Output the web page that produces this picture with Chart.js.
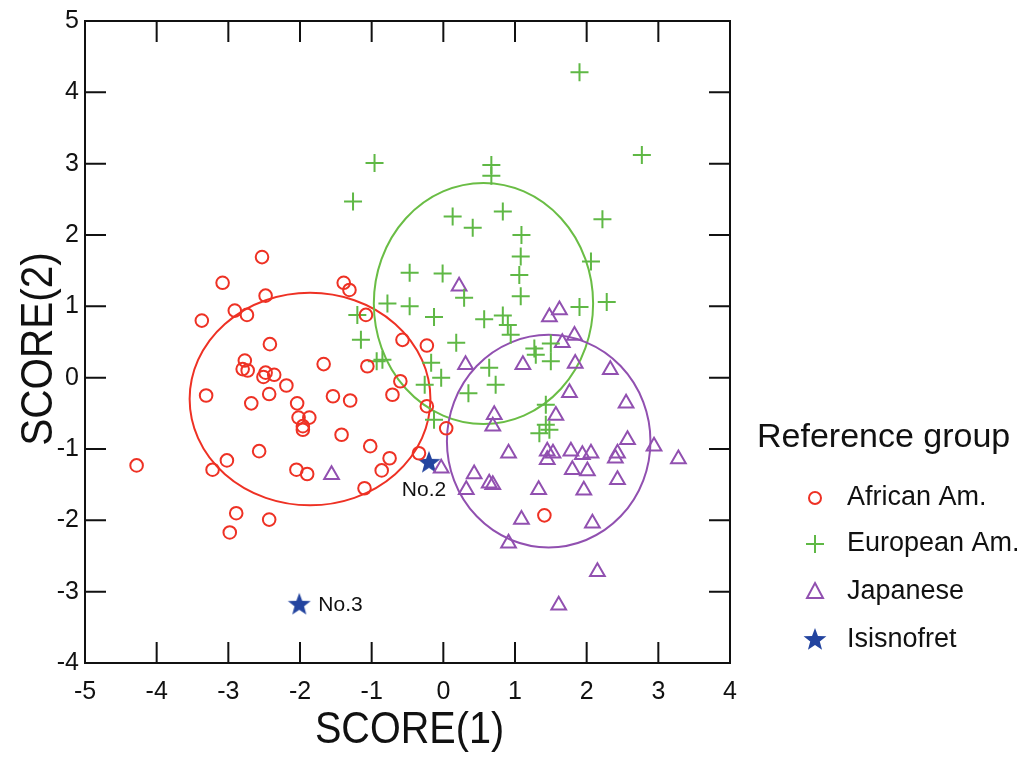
<!DOCTYPE html>
<html>
<head>
<meta charset="utf-8">
<script src="https://cdn.jsdelivr.net/npm/chart.js@4.4.1/dist/chart.umd.min.js"></script>
<style>
  html, body { margin: 0; padding: 0; background: #fff; }
  canvas { display: block; }
</style>
</head>
<body>
<canvas id="scoreChart" width="1028" height="760" style="width:1028px;height:760px"></canvas>
<script>
// data, [score1, score2]
const africanAm = [
  [-4.28, -1.23], [-3.37, 0.80], [-3.31, -0.25], [-3.22, -1.29], [-3.08, 1.33],
  [-3.02, -1.16], [-2.98, -2.17], [-2.91, 0.94], [-2.89, -1.90], [-2.80, 0.12],
  [-2.77, 0.24], [-2.74, 0.88], [-2.73, 0.10], [-2.68, -0.36], [-2.57, -1.03],
  [-2.53, 1.69], [-2.51, 0.01], [-2.48, 1.15], [-2.48, 0.07], [-2.43, -0.23],
  [-2.43, -1.99], [-2.42, 0.47], [-2.36, 0.04], [-2.19, -0.11], [-2.05, -1.29],
  [-2.04, -0.36], [-2.02, -0.56], [-1.96, -0.68], [-1.96, -0.73], [-1.90, -1.35],
  [-1.87, -0.56], [-1.67, 0.19], [-1.54, -0.26], [-1.42, -0.80], [-1.39, 1.33],
  [-1.31, 1.23], [-1.30, -0.32], [-1.10, -1.55], [-1.08, 0.88], [-1.06, 0.16],
  [-1.02, -0.96], [-0.86, -1.30], [-0.75, -1.13], [-0.71, -0.24], [-0.60, -0.05],
  [-0.57, 0.53], [-0.34, -1.06], [-0.23, 0.45], [-0.23, -0.40], [0.04, -0.71],
  [1.41, -1.93]
];
const europeanAm = [
  [-1.26, 2.47], [-0.96, 3.01], [-1.20, 0.88], [-1.15, 0.53], [-0.93, 0.23],
  [-0.85, 0.25], [-0.78, 1.04], [-0.47, 1.00], [-0.47, 1.47], [-0.26, -0.10],
  [-0.17, 0.21], [-0.13, 0.85], [-0.13, -0.59], [-0.03, 0.00], [-0.01, 1.46],
  [0.13, 2.26], [0.18, 0.49], [0.29, 1.12], [0.35, -0.22], [0.41, 2.10],
  [0.57, 0.82], [0.64, 0.14], [0.67, 2.98], [0.67, 2.83], [0.73, -0.10],
  [0.83, 2.33], [0.83, 0.87], [0.90, 0.74], [0.94, 0.60], [1.06, 1.44],
  [1.08, 1.70], [1.08, 1.14], [1.09, 2.00], [1.27, 0.41], [1.29, 0.32],
  [1.34, -0.78], [1.43, -0.38], [1.43, -0.66], [1.48, -0.73], [1.50, 0.48],
  [1.50, 0.23], [1.90, 4.28], [1.90, 0.99], [2.06, 1.63], [2.22, 2.22],
  [2.28, 1.06], [2.77, 3.12]
];
const japanese = [
  [-1.56, -1.36], [-0.03, -1.27], [0.22, 1.28], [0.31, 0.18], [0.32, -1.57],
  [0.43, -1.35], [0.64, -1.48], [0.69, -1.50], [0.69, -0.68], [0.71, -0.52],
  [0.91, -1.06], [0.91, -2.32], [1.09, -1.99], [1.11, 0.18], [1.33, -1.57],
  [1.45, -1.03], [1.45, -1.15], [1.48, 0.85], [1.53, -1.06], [1.57, -0.53],
  [1.61, -3.19], [1.62, 0.95], [1.66, 0.49], [1.76, -0.21], [1.78, -1.03],
  [1.80, -1.29], [1.83, 0.59], [1.84, 0.20], [1.94, -1.08], [1.96, -1.58],
  [2.01, -1.31], [2.06, -1.06], [2.08, -2.04], [2.15, -2.72], [2.33, 0.11],
  [2.40, -1.13], [2.43, -1.06], [2.43, -1.43], [2.55, -0.36], [2.57, -0.87],
  [2.94, -0.96], [3.28, -1.14]
];
const isisnofret = [[-0.20, -1.18], [-2.01, -3.17]];
const isisnofretLabels = ['No.2', 'No.3'];

// group ellipses: centre and semi-axes in score units
const ellipseCenters = [[-1.86, -0.30], [0.56, 1.04], [1.47, -0.89]];
const ellipseRadii = [[1.68, 1.49], [1.53, 1.69], [1.42, 1.49]];

const groupNames = ['African Am.', 'European Am.', 'Japanese', 'Isisnofret'];
const xTicks = [-5, -4, -3, -2, -1, 0, 1, 2, 3, 4];
const yTicks = [-4, -3, -2, -1, 0, 1, 2, 3, 4, 5];

const red = '#ee3124';
const green = '#5fb845';
const greenLine = '#6abd45';
const purple = '#9150b0';
const blue = '#23449f';
const ellipseColors = [red, greenLine, purple];
const fontFamily = "'Liberation Sans', Arial, sans-serif";

function toPoints(arr) {
  return arr.map(p => ({ x: p[0], y: p[1] }));
}

// filled five point star, chart.js 'star' is an asterisk
function makeStar(size, color) {
  const c = document.createElement('canvas');
  c.width = size;
  c.height = size;
  const g = c.getContext('2d');
  const r = size / 2;
  g.beginPath();
  for (let i = 0; i < 10; i++) {
    const rad = i % 2 === 0 ? r : r * 0.42;
    const a = -Math.PI / 2 + i * Math.PI / 5;
    const px = r + rad * Math.cos(a);
    const py = r + 1 + rad * Math.sin(a);
    if (i === 0) g.moveTo(px, py);
    else g.lineTo(px, py);
  }
  g.closePath();
  g.fillStyle = color;
  g.fill();
  return c;
}
const starImg = makeStar(24, blue);

const decorPlugin = {
  id: 'decor',
  beforeDatasetsDraw(chart) {
    const { ctx, scales: { x, y } } = chart;
    ellipseCenters.forEach((c, i) => {
      const cx = x.getPixelForValue(c[0]);
      const cy = y.getPixelForValue(c[1]);
      const rx = Math.abs(x.getPixelForValue(c[0] + ellipseRadii[i][0]) - cx);
      const ry = Math.abs(y.getPixelForValue(c[1] + ellipseRadii[i][1]) - cy);
      ctx.save();
      ctx.beginPath();
      ctx.ellipse(cx, cy, rx, ry, 0, 0, Math.PI * 2);
      ctx.strokeStyle = ellipseColors[i];
      ctx.lineWidth = 2;
      ctx.stroke();
      ctx.restore();
    });
  },
  afterDraw(chart) {
    const { ctx, chartArea: a, scales: { x, y } } = chart;
    const tickLen = 21;
    ctx.save();
    ctx.strokeStyle = '#111';
    ctx.lineWidth = 2;
    ctx.strokeRect(a.left, a.top, a.right - a.left, a.bottom - a.top);
    ctx.beginPath();
    xTicks.forEach(v => {
      const px = x.getPixelForValue(v);
      ctx.moveTo(px, a.bottom);
      ctx.lineTo(px, a.bottom - tickLen);
      ctx.moveTo(px, a.top);
      ctx.lineTo(px, a.top + tickLen);
    });
    yTicks.forEach(v => {
      const py = y.getPixelForValue(v);
      ctx.moveTo(a.left, py);
      ctx.lineTo(a.left + tickLen, py);
      ctx.moveTo(a.right, py);
      ctx.lineTo(a.right - tickLen, py);
    });
    ctx.stroke();

    // axis titles, a bit condensed like the original
    ctx.fillStyle = '#111';
    ctx.textAlign = 'center';
    ctx.textBaseline = 'middle';
    ctx.font = '45px ' + fontFamily;
    ctx.save();
    ctx.translate((a.left + a.right) / 2 + 2, 731);
    ctx.scale(0.88, 1);
    ctx.fillText('SCORE(1)', 0, 0);
    ctx.restore();
    ctx.save();
    ctx.translate(40, 349);
    ctx.rotate(-Math.PI / 2);
    ctx.scale(0.9, 1);
    ctx.fillText('SCORE(2)', 0, 0);
    ctx.restore();

    // point labels for Isisnofret
    ctx.font = '21px ' + fontFamily;
    const p2x = x.getPixelForValue(isisnofret[0][0]);
    const p2y = y.getPixelForValue(isisnofret[0][1]);
    ctx.textAlign = 'center';
    ctx.fillText(isisnofretLabels[0], p2x - 5, p2y + 28);
    const p3x = x.getPixelForValue(isisnofret[1][0]);
    const p3y = y.getPixelForValue(isisnofret[1][1]);
    ctx.textAlign = 'left';
    ctx.fillText(isisnofretLabels[1], p3x + 19, p3y + 1);

    // legend
    ctx.font = '34px ' + fontFamily;
    ctx.textAlign = 'left';
    ctx.fillText('Reference group', 757, 438);
    ctx.font = '27px ' + fontFamily;
    const rowY = [498, 544, 592, 640];
    const mx = 815;
    groupNames.forEach((name, i) => {
      ctx.fillStyle = '#111';
      ctx.fillText(name, 847, rowY[i]);
    });
    ctx.lineWidth = 2;
    ctx.strokeStyle = red;
    ctx.beginPath();
    ctx.arc(mx, rowY[0], 6, 0, Math.PI * 2);
    ctx.stroke();
    ctx.strokeStyle = green;
    ctx.beginPath();
    ctx.moveTo(mx - 9, rowY[1]);
    ctx.lineTo(mx + 9, rowY[1]);
    ctx.moveTo(mx, rowY[1] - 9);
    ctx.lineTo(mx, rowY[1] + 9);
    ctx.stroke();
    ctx.strokeStyle = purple;
    ctx.beginPath();
    ctx.moveTo(mx, rowY[2] - 9);
    ctx.lineTo(mx + 8, rowY[2] + 6);
    ctx.lineTo(mx - 8, rowY[2] + 6);
    ctx.closePath();
    ctx.stroke();
    ctx.drawImage(starImg, mx - 12, rowY[3] - 13);
    ctx.restore();
  }
};

const scoreChart = new Chart(document.getElementById('scoreChart'), {
  type: 'scatter',
  data: {
    datasets: [
      {
        label: groupNames[0],
        data: toPoints(africanAm),
        pointStyle: 'circle',
        pointRadius: 6.3,
        borderWidth: 2,
        borderColor: red,
        backgroundColor: 'rgba(0,0,0,0)'
      },
      {
        label: groupNames[1],
        data: toPoints(europeanAm),
        pointStyle: 'cross',
        pointRadius: 9,
        borderWidth: 2,
        borderColor: green,
        backgroundColor: green
      },
      {
        label: groupNames[2],
        data: toPoints(japanese),
        pointStyle: 'triangle',
        pointRadius: 8.5,
        borderWidth: 2,
        borderColor: purple,
        backgroundColor: 'rgba(0,0,0,0)'
      },
      {
        label: groupNames[3],
        data: toPoints(isisnofret),
        pointStyle: starImg,
        pointRadius: 12,
        borderWidth: 0,
        borderColor: blue,
        backgroundColor: blue
      }
    ]
  },
  options: {
    responsive: false,
    animation: false,
    devicePixelRatio: 1,
    layout: {
      padding: { left: 0, right: 298, top: 20, bottom: 0 }
    },
    plugins: {
      legend: { display: false },
      tooltip: { enabled: false }
    },
    scales: {
      x: {
        type: 'linear',
        min: -5,
        max: 4,
        afterFit(scale) { scale.height = 97; },
        afterBuildTicks(scale) { scale.ticks = xTicks.map(v => ({ value: v })); },
        grid: { display: false, drawTicks: false },
        border: { display: false },
        ticks: {
          padding: 14,
          color: '#111',
          font: { family: fontFamily, size: 25 }
        }
      },
      y: {
        type: 'linear',
        min: -4,
        max: 5,
        afterFit(scale) { scale.width = 85; },
        afterBuildTicks(scale) { scale.ticks = yTicks.map(v => ({ value: v })); },
        grid: { display: false, drawTicks: false },
        border: { display: false },
        ticks: {
          padding: 6,
          color: '#111',
          font: { family: fontFamily, size: 25 }
        }
      }
    }
  },
  plugins: [decorPlugin]
});
</script>
</body>
</html>
